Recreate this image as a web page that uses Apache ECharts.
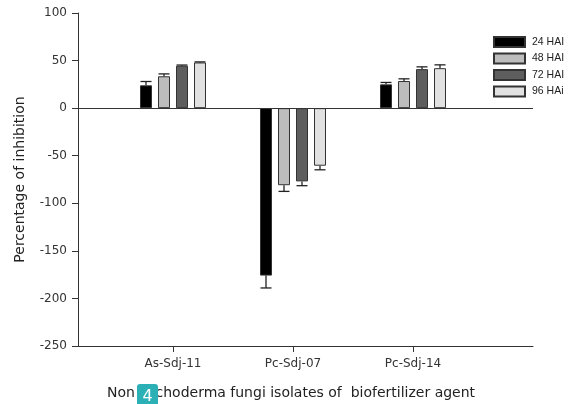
<!DOCTYPE html>
<html>
<head>
  <meta charset="utf-8">
  <title>Percentage of inhibition</title>
  <script src="https://cdn.jsdelivr.net/npm/echarts@6/dist/echarts.min.js"></script>
  <style>
    html, body { margin: 0; padding: 0; background: #fff; }
  </style>
</head>
<body>
<div id="main" style="width:573px;height:404px;"></div>

<script type="text/javascript">
// isolates on the x axis
var isolates = ['As-Sdj-11', 'Pc-Sdj-07', 'Pc-Sdj-14'];
var seriesNames = ['24 HAI', '48 HAI', '72 HAI', '96 HAi'];

// mean inhibition (%) for each time point, one value per isolate
var hai24 = [24, -176, 25];
var hai48 = [33.5, -81, 28.5];
var hai72 = [44.5, -77, 41];
var hai96 = [48, -60.5, 42];

// error bar lengths (drawn outward from the bar end)
var err24 = [4, 13, 2];
var err48 = [2.5, 6.5, 2.3];
var err72 = [0.8, 4.5, 2.4];
var err96 = [0.6, 4.3, 3.5];

var yTicks = [100, 50, 0, -50, -100, -150, -200, -250];

var fills = ['#000000', '#bdbdbd', '#5e5e5e', '#e1e1e1'];
var barW = 12;

var means = [hai24, hai48, hai72, hai96];
var errs = [err24, err48, err72, err96];

var myChart = echarts.init(document.getElementById('main'));

var series = [];
var i, s;
for (s = 0; s < 4; s++) {
    var d = [];
    for (i = 0; i < isolates.length; i++) d.push([i + 1, means[s][i]]);
    var bar = {
        name: seriesNames[s],
        type: 'bar',
        barWidth: barW,
        barGap: '50%',
        data: d,
        itemStyle: { color: fills[s], borderColor: '#333', borderWidth: 1 },
        z: 2
    };
    if (s === 0) {
        // the zero line across the plot
        bar.markLine = {
            silent: true,
            symbol: ['none', 'none'],
            label: { show: false },
            lineStyle: { color: '#333', type: 'solid', width: 1 },
            data: [{ yAxis: 0 }]
        };
    }
    series.push(bar);
}

// error bars, one custom series per time point
for (s = 0; s < 4; s++) {
    var ed = [];
    for (i = 0; i < isolates.length; i++) ed.push([i + 1, means[s][i], errs[s][i]]);
    (function (k) {
        series.push({
            type: 'custom',
            data: ed,
            z: 5,
            silent: true,
            renderItem: function (params, api) {
                var v = api.value(1);
                var e = api.value(2);
                var sign = v < 0 ? -1 : 1;
                var off = (k - 1.5) * barW * 1.5;
                var p0 = api.coord([api.value(0), v]);
                var p1 = api.coord([api.value(0), v + sign * e]);
                var x = p0[0] + off;
                var st = { stroke: '#222', lineWidth: 1.3 };
                return {
                    type: 'group',
                    children: [
                        { type: 'line', shape: { x1: x, y1: p0[1], x2: x, y2: p1[1] }, style: st },
                        { type: 'line', shape: { x1: x - 5.5, y1: p1[1], x2: x + 5.5, y2: p1[1] }, style: st }
                    ]
                };
            }
        });
    })(s);
}

var option = {
    animation: false,
    backgroundColor: '#fff',
    textStyle: { fontFamily: 'DejaVu Sans' },
    grid: { left: 78, right: 40, top: 13, bottom: 58, containLabel: false },
    legend: {
        data: seriesNames,
        orient: 'vertical',
        left: 493,
        top: 36,
        padding: 0,
        itemWidth: 31,
        itemHeight: 10,
        itemGap: 4.5,
        icon: 'rect',
        textStyle: { fontFamily: 'Liberation Sans', fontSize: 10.5, color: '#222', padding: [0, 0, 0, 2] }
    },
    xAxis: {
        type: 'value',
        min: 1 - 95 / 120,
        max: 4,
        splitLine: { show: false },
        axisLine: { onZero: false, lineStyle: { color: '#333', width: 1 } },
        axisTick: { length: 6, lineStyle: { color: '#333' }, customValues: [1, 2, 3] },
        axisLabel: {
            customValues: [1, 2, 3],
            margin: 12,
            fontSize: 12,
            color: '#333',
            formatter: function (v) { return isolates[Math.round(v) - 1] || ''; }
        }
    },
    yAxis: {
        type: 'value',
        min: -250,
        max: 100,
        interval: 50,
        splitLine: { show: false },
        axisLine: { show: true, onZero: false, lineStyle: { color: '#333', width: 1 } },
        axisTick: { show: true, length: 6, lineStyle: { color: '#333' } },
        axisLabel: { margin: 11, fontSize: 12, color: '#333' },
        name: 'Percentage of inhibition',
        nameLocation: 'middle',
        nameGap: 51,
        nameTextStyle: { fontSize: 14, color: '#222' }
    },
    graphic: [
        {
            type: 'text',
            left: 107,
            top: 386,
            style: {
                text: 'Non Trichoderma fungi isolates of  biofertilizer agent',
                font: '14px "DejaVu Sans"',
                fill: '#222'
            },
            z: 10
        },
        {
            type: 'rect',
            shape: { x: 137, y: 384, width: 21, height: 26, r: 3 },
            style: { fill: '#2bb0b6' },
            z: 11
        },
        {
            type: 'text',
            x: 147.5,
            y: 397,
            style: { text: '4', font: '16px "DejaVu Sans"', fill: '#fff', align: 'center', verticalAlign: 'middle' },
            z: 12
        }
    ],
    series: series
};

myChart.setOption(option);
</script>
</body>
</html>
